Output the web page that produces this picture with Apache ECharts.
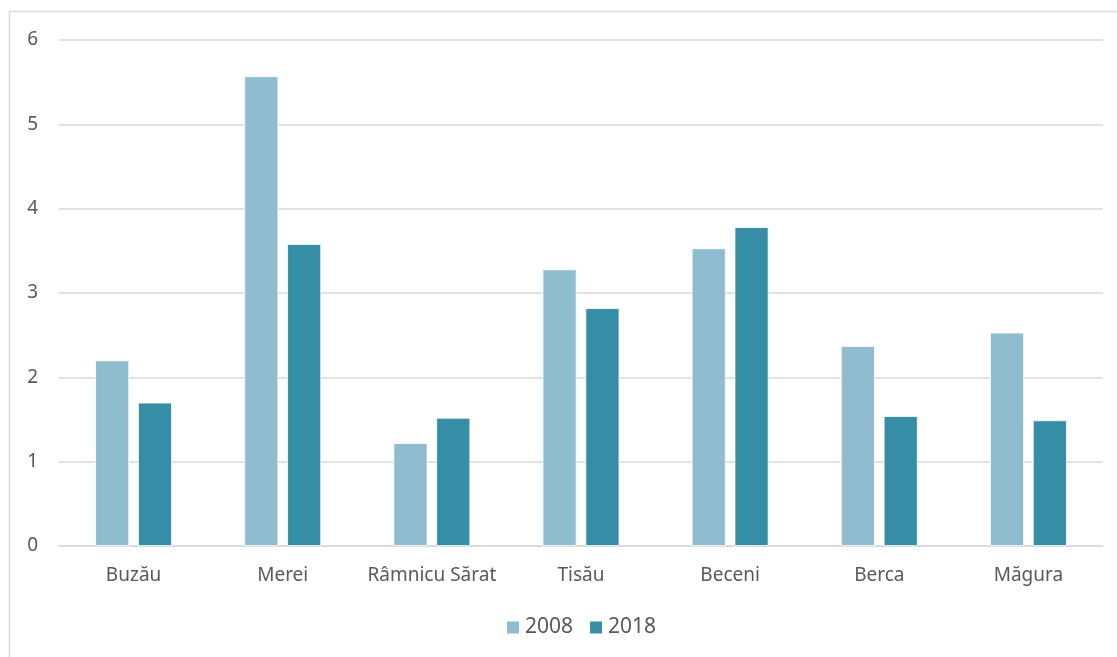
<!DOCTYPE html>
<html>
<head>
<meta charset="utf-8">
<script src="https://cdn.jsdelivr.net/npm/echarts@6/dist/echarts.min.js"></script>
<style>
html,body{margin:0;padding:0;background:#fff;}
#c{width:1117px;height:657px;}
</style>
</head>
<body>
<div id="c"></div>
<script>
const categories = ["Buzău", "Merei", "Râmnicu Sărat", "Tisău", "Beceni", "Berca", "Măgura"];
const seriesNames = ["2008", "2018"];
const values2008 = [2.20, 5.57, 1.22, 3.28, 3.53, 2.37, 2.53];
const values2018 = [1.70, 3.58, 1.52, 2.82, 3.78, 1.54, 1.49];
const colors = ["#8FBCCE", "#358EA6"];

const chart = echarts.init(document.getElementById('c'));
const font = '"Noto Sans", "Open Sans", sans-serif';
chart.setOption({
  animation: false,
  textStyle: { fontFamily: font },
  graphic: [{
    type: 'rect',
    shape: { x: 9.5, y: 11.5, width: 1200, height: 700 },
    style: { fill: 'none', stroke: '#d9d9d9', lineWidth: 1.5 },
    silent: true
  }],
  grid: { left: 59, right: 14, top: 40, bottom: 111, containLabel: false },
  legend: {
    data: seriesNames,
    bottom: 14,
    left: 500,
    itemWidth: 14,
    itemHeight: 14,
    itemGap: 15,
    icon: 'rect',
    textStyle: { color: '#595959', fontSize: 21, fontFamily: font }
  },
  xAxis: {
    type: 'category',
    data: categories,
    axisLine: { lineStyle: { color: '#d9d9d9', width: 1.5 } },
    axisTick: { show: false },
    axisLabel: { color: '#595959', fontSize: 19, margin: 20, interval: 0, fontFamily: font }
  },
  yAxis: {
    type: 'value',
    min: 0, max: 6, interval: 1,
    axisLine: { show: false },
    axisTick: { show: false },
    splitLine: { lineStyle: { color: '#d9d9d9', width: 1.5 } },
    axisLabel: { color: '#595959', fontSize: 19, margin: 21, fontFamily: font }
  },
  series: [
    { name: seriesNames[0], type: 'bar', data: values2008, barWidth: 34, barGap: '26%',
      itemStyle: { color: colors[0], borderColor: '#ffffff', borderWidth: 0.8 } },
    { name: seriesNames[1], type: 'bar', data: values2018, barWidth: 34,
      itemStyle: { color: colors[1], borderColor: '#ffffff', borderWidth: 0.8 } }
  ]
});
</script>
</body>
</html>
